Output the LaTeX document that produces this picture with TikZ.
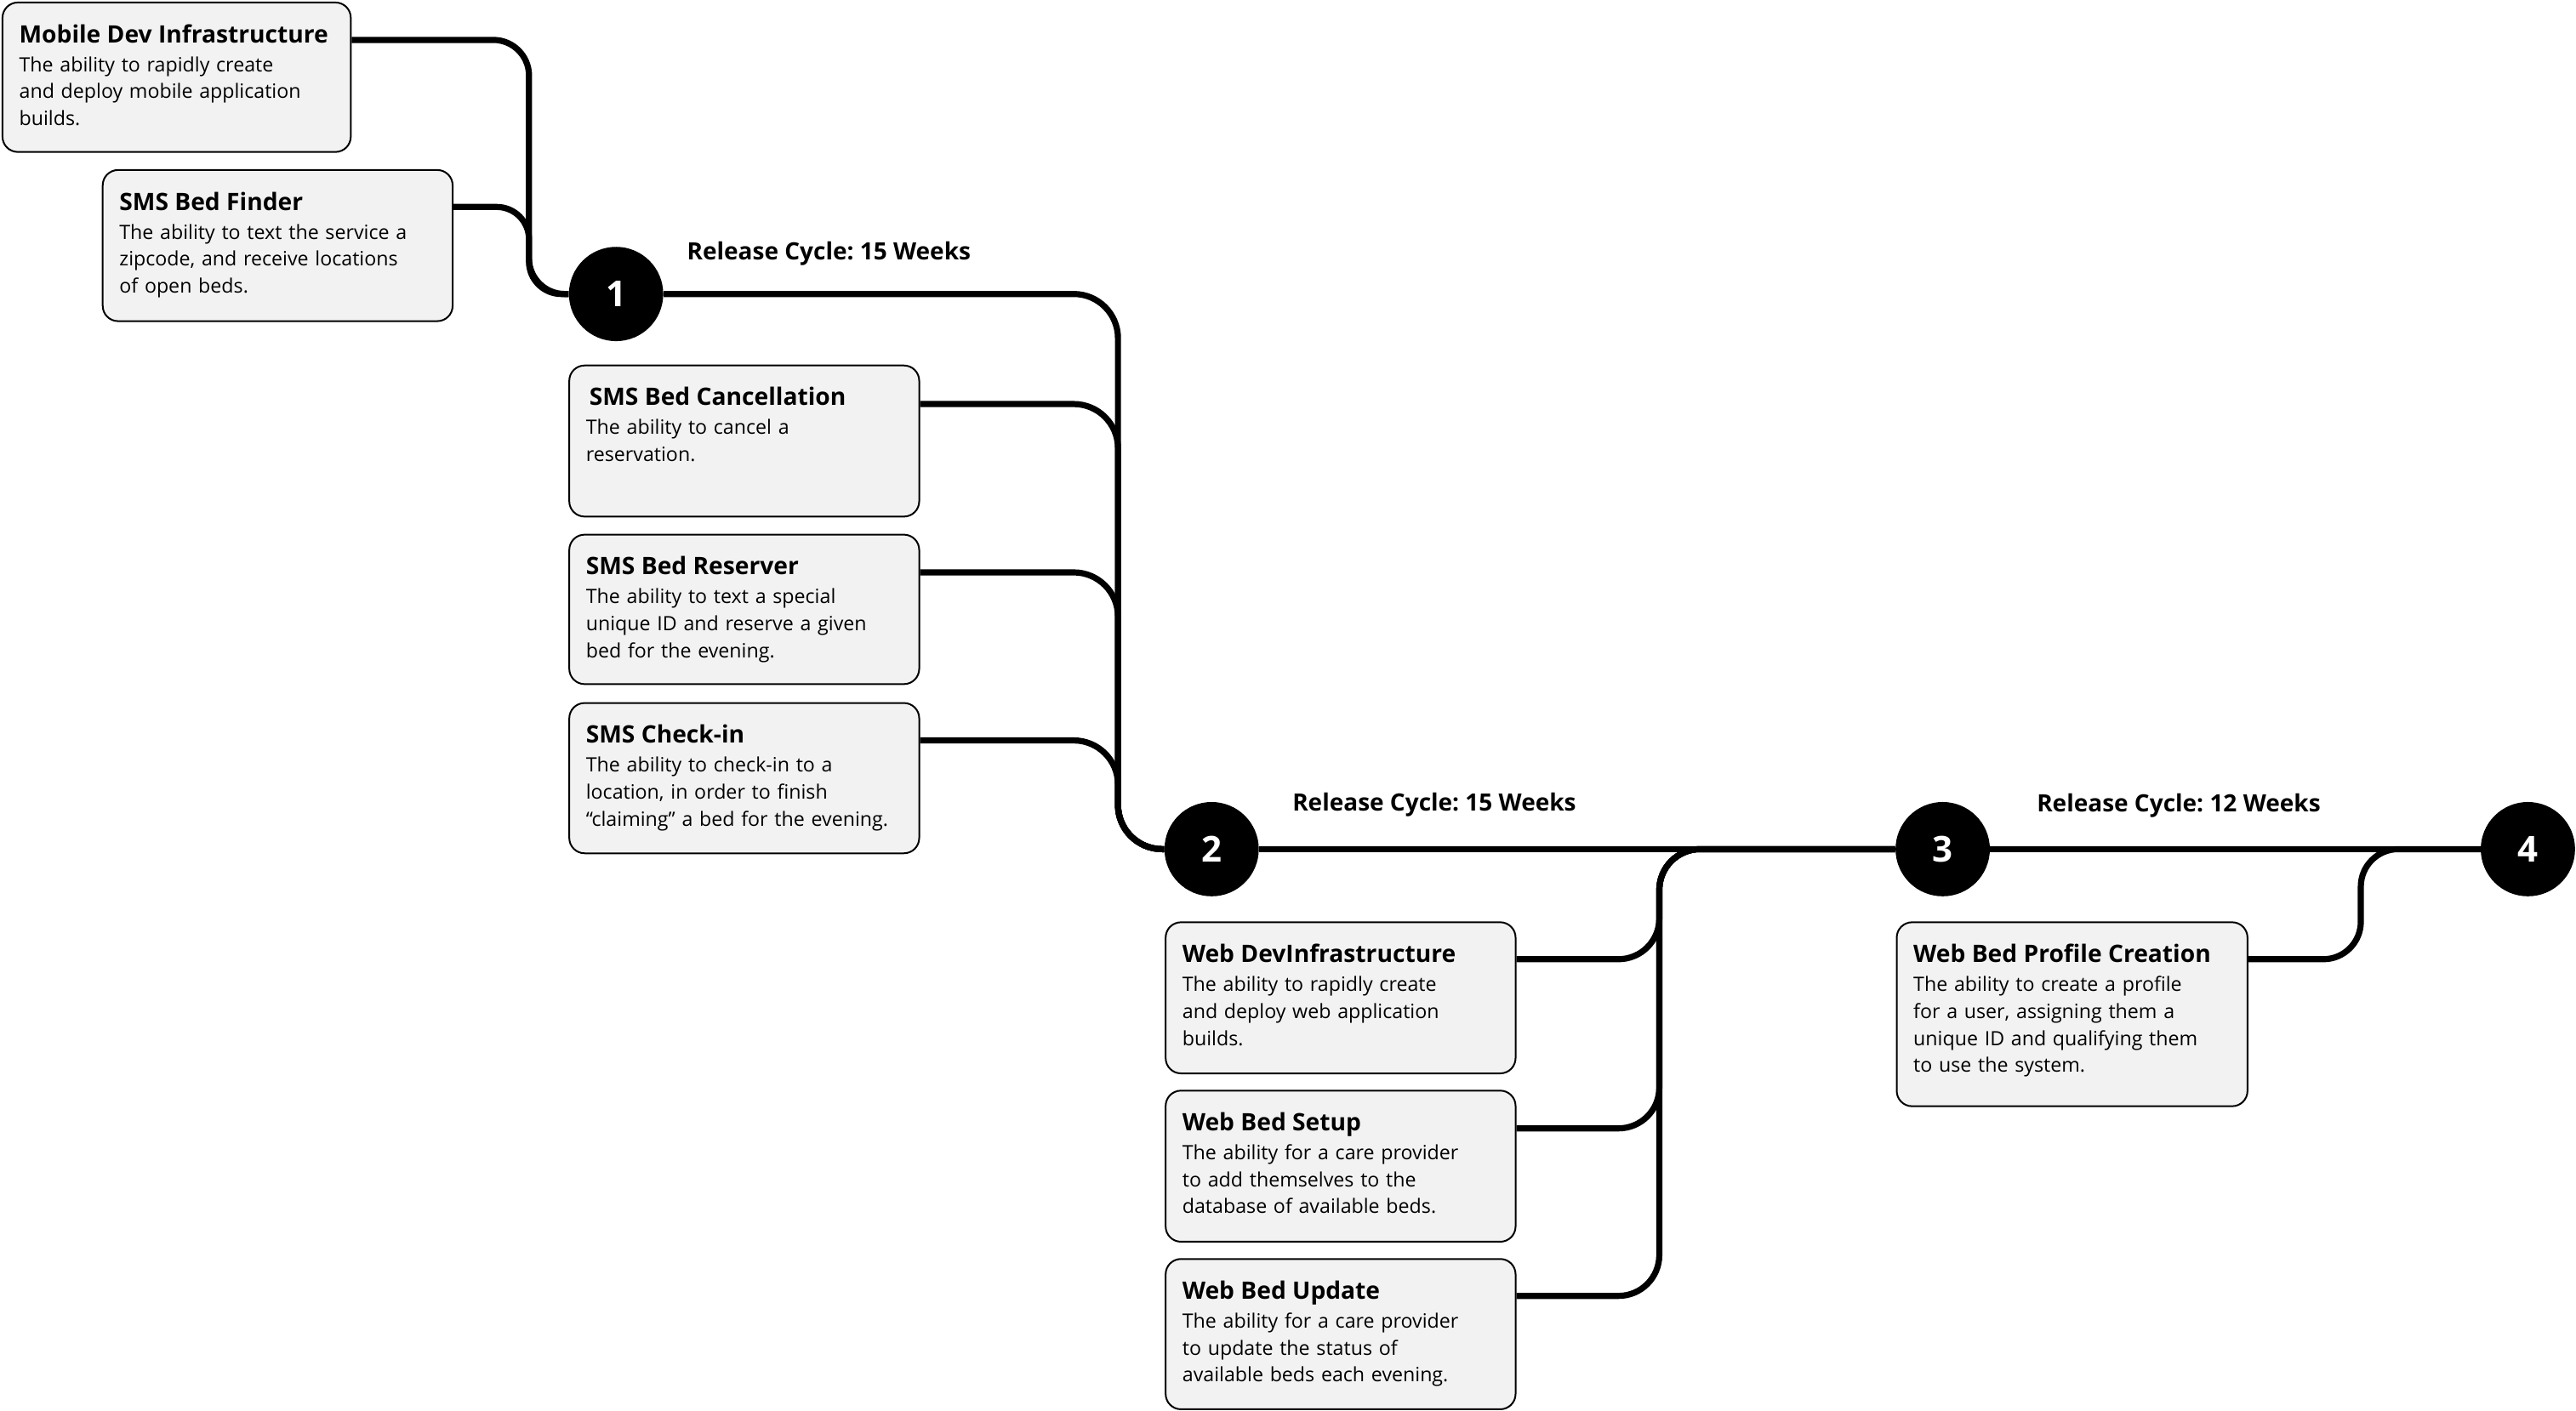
\documentclass[tikz,border=0pt]{standalone}
\usepackage{fontspec}
\setmainfont{Open Sans}
\usetikzlibrary{calc}
\definecolor{boxfill}{HTML}{F2F2F2}
\def\U{0.9656pt}
\frenchspacing
\tikzset{
  featbox/.style={draw=black, line width=1pt, fill=boxfill, rounded corners=9pt,
    anchor=north west, inner sep=0pt},
  ftitle/.style={anchor=base west, inner sep=0pt, font=\fontsize{14.1}{16}\selectfont\bfseries},
  fbody/.style={anchor=base west, inner sep=0pt, align=left, text width=205*\U,
    font=\fontsize{11.6}{15.85}\selectfont},
  milestone/.style={circle, fill=black, minimum size=57.4*\U, inner sep=0pt, text=white,
    font=\fontsize{21}{21}\selectfont\bfseries},
  rel/.style={anchor=base west, inner sep=0pt, font=\fontsize{14}{16}\selectfont\bfseries},
  conn/.style={line width=3.6pt, draw=black}
}
\newcommand\feat[7]{%
  \node[featbox, minimum width=#4*\U, minimum height=#5*\U] (#1) at (#2,#3) {};
  \node[ftitle] (#1-t) at ($(#1.north west)+(10.5,25)$) {#6};
  \node[fbody] (#1-b) at ($(#1.north west)+(10.5,42.6)$) {#7};
}
\begin{document}
\begin{tikzpicture}[x=0.9656pt, y=-0.9656pt]
\useasboundingbox (0,0) rectangle (1568,858.6);

% milestones
\node[milestone] (n1) at (375,179) {1};
\node[milestone] (n2) at (737.5,517) {2};
\node[milestone] (n3) at (1182.5,517) {3};
\node[milestone] (n4) at (1538.7,517) {4};

% feature boxes
\feat{mdi}{1}{1}{212}{91}{Mobile Dev Infrastructure}{The ability to rapidly create\\and deploy mobile application\\builds.}
\feat{sbf}{62}{103}{213}{92}{SMS Bed Finder}{The ability to text the service a\\zipcode, and receive locations\\of open beds.}
\feat{sbc}{346}{222}{213}{92}{\hspace{2pt}SMS Bed Cancellation}{The ability to cancel a\\reservation.}
\feat{sbr}{346}{325}{213}{91}{SMS Bed Reserver}{The ability to text a special\\unique ID and reserve a given\\bed for the evening.}
\feat{sci}{346}{427.5}{213}{91.5}{SMS Check-in}{The ability to check-in to a\\location, in order to finish\\“claiming” a bed for the evening.}
\feat{wdi}{709}{561}{213}{92}{Web DevInfrastructure}{The ability to rapidly create\\and deploy web application\\builds.}
\feat{wbs}{709}{663.5}{213}{92}{Web Bed Setup}{The ability for a care provider\\to add themselves to the\\database of available beds.}
\feat{wbu}{709}{766}{213}{91.5}{Web Bed Update}{The ability for a care provider\\to update the status of\\available beds each evening.}
\feat{wbp}{1154}{561}{213.5}{112}{Web Bed Profile Creation}{The ability to create a profile\\for a user, assigning them a\\unique ID and qualifying them\\to use the system.}

% junctions
\coordinate (j0) at (322,179);
\coordinate (j1) at (680.5,517);
\coordinate (j2) at (1010,517);
\coordinate (j3) at (1437,517);

% connectors
\draw[conn, rounded corners=21pt] ($(mdi.north east)+(0,23.3)$) -| (j0) -- (n1.west);
\draw[conn, rounded corners=19pt] ($(sbf.north east)+(0,23)$) -| (j0) -- (n1.west);
\draw[conn, rounded corners=26pt] (n1.east) -| (j1) -- (n2.west);
\draw[conn, rounded corners=26pt] ($(sbc.north east)+(0,24)$) -| (j1) -- (n2.west);
\draw[conn, rounded corners=26pt] ($(sbr.north east)+(0,23.5)$) -| (j1) -- (n2.west);
\draw[conn, rounded corners=26pt] ($(sci.north east)+(0,23.3)$) -| (j1) -- (n2.west);
\draw[conn] (n2.east) -- (n3.west);
\draw[conn, rounded corners=24pt] ($(wdi.north east)+(0,23)$) -| (j2) -- (n3.west);
\draw[conn, rounded corners=24pt] ($(wbs.north east)+(0,23.5)$) -| (j2) -- (n3.west);
\draw[conn, rounded corners=24pt] ($(wbu.north east)+(0,23)$) -| (j2) -- (n3.west);
\draw[conn] (n3.east) -- (n4.west);
\draw[conn, rounded corners=22pt] ($(wbp.north east)+(0,23)$) -| (j3) -- (n4.west);

% release labels
\node[rel] (r1) at (418,158) {Release Cycle: 15 Weeks};
\node[rel] (r2) at (786.5,494) {Release Cycle: 15 Weeks};
\node[rel] (r3) at (1239.6,494.4) {Release Cycle: 12 Weeks};
\end{tikzpicture}
\end{document}
